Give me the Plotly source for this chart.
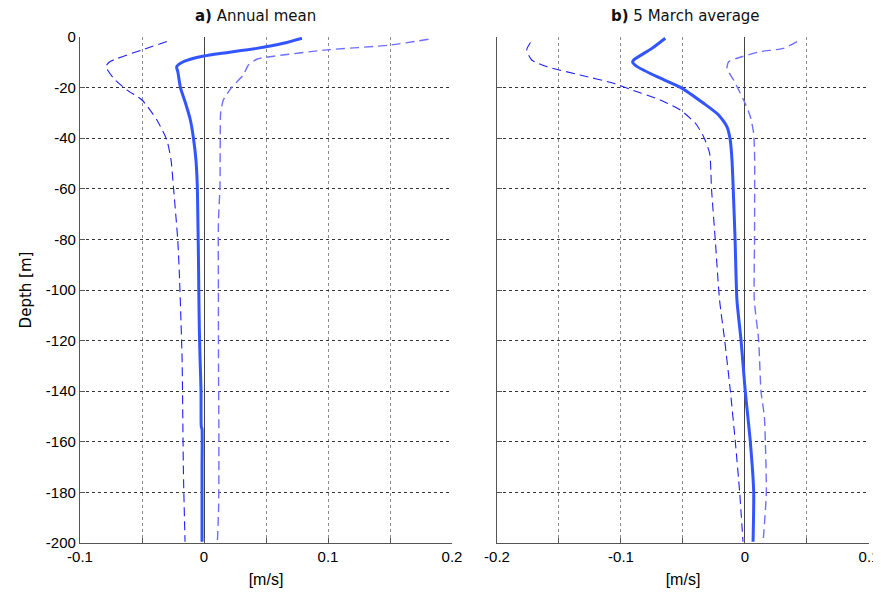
import plotly.graph_objects as go
from plotly.subplots import make_subplots

# ---- data: panel a) Annual mean ----
a_mean_depth = [-0.5, -2.5, -4.5, -6.5, -7.5, -8.5, -9.8, -11.7, -14, -20, -26, -32.8, -40, -48.6,
                -59, -70, -83, -100, -114.5, -127, -140, -154, -155, -170, -185, -199.5]
a_mean_vel = [0.079, 0.064, 0.0425, 0.013, 0.0, -0.009, -0.0167, -0.022, -0.021, -0.019, -0.015,
              -0.011, -0.0085, -0.0065, -0.0054, -0.005, -0.0046, -0.0042, -0.0038, -0.0032,
              -0.0024, -0.0022, -0.0016, -0.0016, -0.0016, -0.0016]

a_low_depth = [-1.8, -5.1, -9.8, -11.7, -16.3, -21, -24.9, -32.8, -40.7, -48.6, -59, -80, -92,
               -127, -172, -199.5]
a_low_vel = [-0.030, -0.050, -0.076, -0.079, -0.073, -0.062, -0.050, -0.038, -0.030, -0.0266,
             -0.0247, -0.0212, -0.020, -0.0177, -0.0166, -0.0153]

a_high_depth = [-0.9, -3.2, -5.1, -7.8, -8.8, -11.1, -15, -19.9, -24.9, -30.2, -40, -48.6, -59,
                -73.6, -100, -130, -160, -185.6, -199.5]
a_high_vel = [0.181, 0.150, 0.099, 0.053, 0.0425, 0.0358, 0.0317, 0.0223, 0.0156, 0.0134, 0.0131,
              0.0130, 0.0129, 0.0116, 0.0116, 0.0117, 0.012, 0.0118, 0.0108]

# ---- data: panel b) 5 March average ----
b_mean_depth = [-0.5, -4.5, -9.1, -10, -11.7, -15.7, -19.9, -26.2, -30.8, -35.5, -40.7, -48.6,
                -60, -80, -104, -119.8, -140, -160, -179.7, -199.5]
b_mean_vel = [-0.0643, -0.075, -0.0898, -0.0906, -0.087, -0.071, -0.052, -0.0334, -0.0213,
              -0.0145, -0.0119, -0.0105, -0.0095, -0.008, -0.0065, -0.0032, 0.0002, 0.0043,
              0.007, 0.0065]

b_low_depth = [-2.2, -5.1, -9.1, -11.7, -15, -18.3, -20.7, -24.9, -28.9, -34.1, -39.4, -46, -60,
               -80, -104, -119.8, -140, -160, -180, -199.5]
b_low_vel = [-0.173, -0.176, -0.172, -0.160, -0.133, -0.106, -0.0925, -0.0683, -0.052, -0.040,
             -0.0334, -0.0285, -0.027, -0.024, -0.0205, -0.0164, -0.0118, -0.0078, -0.0043,
             -0.0016]

b_high_depth = [-1.8, -4.5, -5.8, -8.4, -9.8, -12.4, -17, -24.9, -31.5, -38.1, -48.6, -60, -80,
                -104, -119.8, -140, -150, -160, -180, -197, -199.5]
b_high_vel = [0.042, 0.031, 0.0123, -0.0065, -0.0132, -0.0145, -0.0092, -0.0011, 0.0043, 0.007,
              0.0078, 0.0078, 0.0077, 0.0075, 0.011, 0.0129, 0.0156, 0.0164, 0.0172, 0.015,
              0.0145]

x_ranges = [[-0.1, 0.2], [-0.2, 0.1]]
x_tickvals = [[-0.1, 0, 0.1, 0.2], [-0.2, -0.1, 0, 0.1]]
x_ticktext = [["-0.1", "0", "0.1", "0.2"], ["-0.2", "-0.1", "0", "0.1"]]
y_range = [-200, 0]
y_tickvals = [0, -20, -40, -60, -80, -100, -120, -140, -160, -180, -200]
y_ticktext = ["0", "-20", "-40", "-60", "-80", "-100", "-120", "-140", "-160", "-180", "-200"]
titles = ["<b>a)</b> Annual mean", "<b>b)</b> 5 March average"]
x_label = "[m/s]"
y_label = "Depth [m]"

MEAN_C = "#3355ff"
LOW_C = "#1f1fff"
HIGH_C = "#6f6fff"

fig = make_subplots(rows=1, cols=2, horizontal_spacing=0.057)
fig.update_xaxes(domain=[0, 0.4715], row=1, col=1)
fig.update_xaxes(domain=[0.5285, 1], row=1, col=2)

panels = [
    (a_mean_depth, a_mean_vel, a_low_depth, a_low_vel, a_high_depth, a_high_vel),
    (b_mean_depth, b_mean_vel, b_low_depth, b_low_vel, b_high_depth, b_high_vel),
]
for i, (md, mv, ld, lv, hd, hv) in enumerate(panels, start=1):
    fig.add_trace(go.Scatter(x=lv, y=ld, mode="lines", line=dict(color=LOW_C, width=1.1, dash="9px,5px",
                                                                 shape="spline", smoothing=0.6),
                             showlegend=False), row=1, col=i)
    fig.add_trace(go.Scatter(x=hv, y=hd, mode="lines", line=dict(color=HIGH_C, width=1.4, dash="9px,5px",
                                                                 shape="spline", smoothing=0.6),
                             showlegend=False), row=1, col=i)
    fig.add_trace(go.Scatter(x=mv, y=md, mode="lines", line=dict(color=MEAN_C, width=3,
                                                                 shape="spline", smoothing=0.6),
                             showlegend=False), row=1, col=i)

tickfont = dict(family="Liberation Sans, Arial, sans-serif", size=15, color="#000")
for i in (1, 2):
    fig.update_xaxes(range=x_ranges[i - 1], tickmode="array", tickvals=x_tickvals[i - 1],
                     ticktext=x_ticktext[i - 1], automargin=False,
                     showgrid=True, gridcolor="#8a8a8a", griddash="dot", gridwidth=1,
                     zeroline=True, zerolinecolor="#444", zerolinewidth=1.2,
                     showline=True, linecolor="#555", linewidth=1.2, mirror=False,
                     ticks="inside", ticklen=5, tickcolor="#555",
                     minor=dict(dtick=0.05, tick0=0, showgrid=True, gridcolor="#8a8a8a", griddash="dot",
                                ticks="inside", ticklen=5, tickcolor="#555"),
                     tickfont=tickfont,
                     title=dict(text=x_label, font=dict(family="Liberation Sans, Arial", size=16, color="#000"),
                                standoff=9),
                     row=1, col=i)
    fig.update_yaxes(range=y_range, tickmode="array", tickvals=y_tickvals, ticktext=y_ticktext,
                     automargin=False,
                     showgrid=True, gridcolor="#333", griddash="dot",
                     gridwidth=1, zeroline=False,
                     showline=True, linecolor="#555", linewidth=1.2, mirror=False,
                     ticks="inside", ticklen=5, tickcolor="#555",
                     tickfont=tickfont, showticklabels=(i == 1),
                     row=1, col=i)
fig.update_yaxes(title=dict(text=y_label, font=dict(family="DejaVu Sans", size=15, color="#000"),
                            standoff=10), row=1, col=1)

# page body has an 8px offset, so the figure is sized to compensate
OFF = 8
L, R, T, B = 80 - OFF, 12, 37 - OFF, 54
W, H = 881 - OFF, 597 - OFF
pw, ph = W - L - R, H - T - B
title_px = [255 - OFF, 685 - OFF]
for txt, px in zip(titles, title_px):
    fig.add_annotation(text=txt, xref="paper", yref="paper", x=(px - L) / pw, y=(H - B - 16 + OFF) / ph,
                       xanchor="center", yanchor="middle", showarrow=False,
                       font=dict(family="DejaVu Sans", size=15, color="#111"))

fig.update_layout(width=W, height=H, margin=dict(l=L, r=R, t=T, b=B),
                  plot_bgcolor="white", paper_bgcolor="white", showlegend=False)

fig.write_html("out.html")
